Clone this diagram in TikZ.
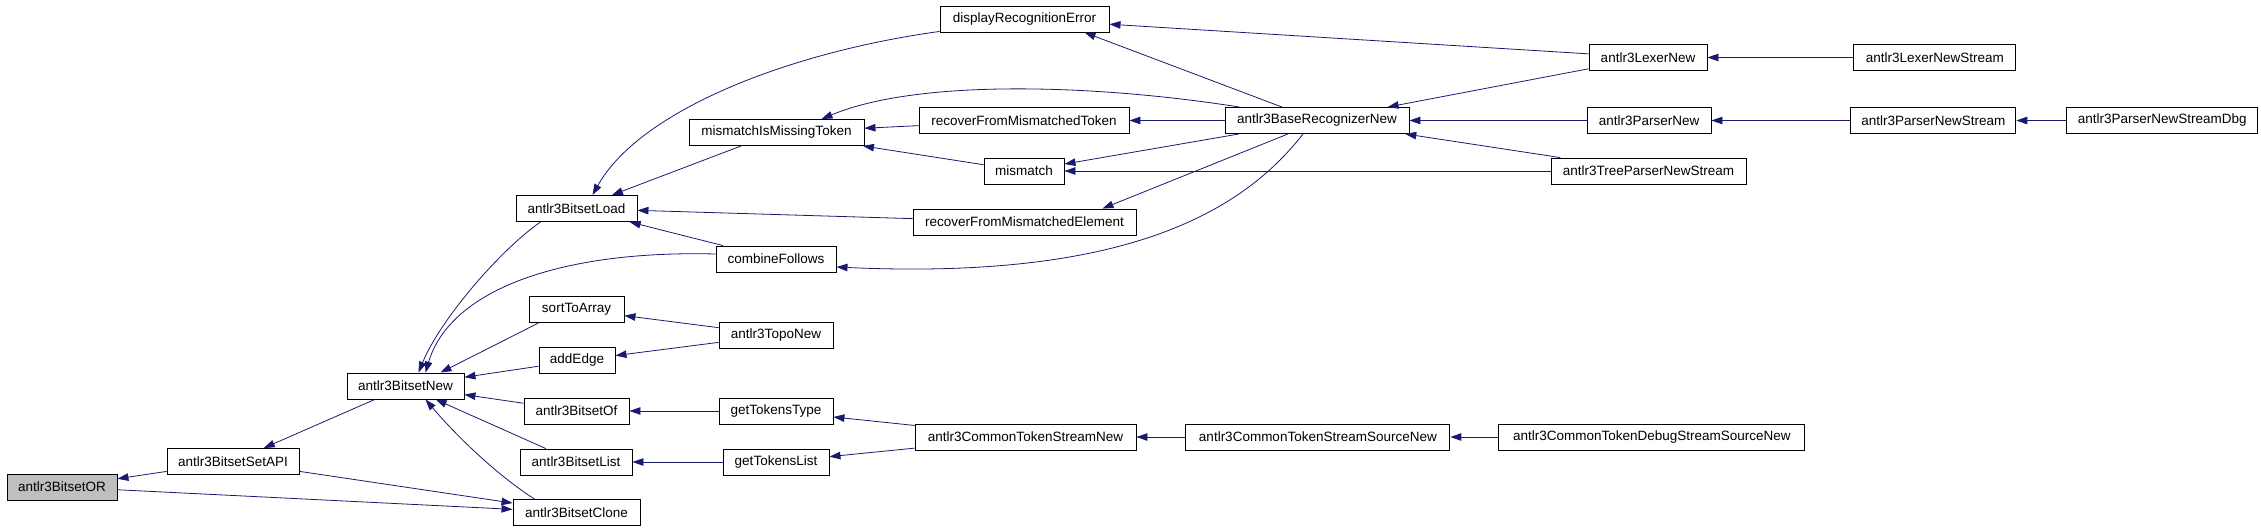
\documentclass[tikz,border=0pt]{standalone}
\usepackage{fontspec}
\setmainfont{Liberation Sans}
\usepackage{xcolor}
\usepackage{tikz}
\usetikzlibrary{positioning,arrows.meta}
\definecolor{edgeblue}{HTML}{191970}
\definecolor{focus}{HTML}{BFBFBF}

\begin{document}
\begin{tikzpicture}[x=1pt, y=-1pt,
  fn/.style={draw, line width=0.9pt, minimum height=26pt, inner sep=0pt,
             font=\fontsize{13.5}{16}\selectfont},
  arr/.style={-{Triangle[length=11pt, width=7.5pt]}, line width=0.8pt, draw=edgeblue}]
\useasboundingbox (0,0) rectangle (2261,531);
\node[fn, fill=focus, minimum width=110pt] (bor) at (62,487) {antlr3BitsetOR};
\node[fn, minimum width=132pt] (setapi) at (233,461.5) {antlr3BitsetSetAPI};
\node[fn, minimum width=117pt] (bnew) at (405.5,386) {antlr3BitsetNew};
\node[fn, minimum width=127pt] (clone) at (576.5,512.5) {antlr3BitsetClone};
\node[fn, minimum width=112pt] (blist) at (576,462) {antlr3BitsetList};
\node[fn, minimum width=105pt] (bof) at (576.5,411) {antlr3BitsetOf};
\node[fn, minimum width=76pt] (addedge) at (577,360.5) {addEdge};
\node[fn, minimum width=95pt] (sortarr) at (576.5,309.5) {sortToArray};
\node[fn, minimum width=121pt] (load) at (576.5,208.5) {antlr3BitsetLoad};
\node[fn, minimum width=114pt] (topo) at (776,335) {antlr3TopoNew};
\node[fn, minimum width=114pt] (gtype) at (776,411) {getTokensType};
\node[fn, minimum width=106pt] (glist) at (776,462) {getTokensList};
\node[fn, minimum width=120pt] (combine) at (776,259) {combineFollows};
\node[fn, minimum width=175pt] (missing) at (776.5,132.5) {mismatchIsMissingToken};
\node[fn, minimum width=169pt] (display) at (1024.5,19) {displayRecognitionError};
\node[fn, minimum width=210pt] (rtoken) at (1024,120.5) {recoverFromMismatchedToken};
\node[fn, minimum width=80pt] (mism) at (1024,171) {mismatch};
\node[fn, minimum width=223pt] (relem) at (1024.5,222) {recoverFromMismatchedElement};
\node[fn, minimum width=221pt] (ctsnew) at (1025.5,437) {antlr3CommonTokenStreamNew};
\node[fn, minimum width=184pt] (baserec) at (1317,120.5) {antlr3BaseRecognizerNew};
\node[fn, minimum width=264pt, right=49pt of ctsnew] (ctssrc) {antlr3CommonTokenStreamSourceNew};
\node[fn, minimum width=306pt, right=48pt of ctssrc] (ctdbg) {antlr3CommonTokenDebugStreamSourceNew};
\node[fn, minimum width=118pt] (lexnew) at (1648,57.5) {antlr3LexerNew};
\node[fn, minimum width=124pt] (parnew) at (1649,120.5) {antlr3ParserNew};
\node[fn, minimum width=195pt] (treens) at (1648.5,171) {antlr3TreeParserNewStream};
\node[fn, minimum width=162pt, right=146pt of lexnew] (lexns) {antlr3LexerNewStream};
\node[fn, minimum width=165pt, right=139pt of parnew] (parns) {antlr3ParserNewStream};
\node[fn, minimum width=191pt, right=50pt of parns] (pdbg) {antlr3ParserNewStreamDbg};
\draw[arr] (setapi) -- (bor);
\draw[arr] (bor) -- (clone);
\draw[arr] (setapi) -- (clone);
\draw[arr] (bnew) -- (setapi);
\draw[arr] ([xshift=25pt]load.south west) .. controls (500,250) and (440,320) .. ([xshift=13pt]bnew.north);
\draw[arr] ([yshift=5pt]combine.west) .. controls (560,250) and (450,290) .. ([xshift=20pt]bnew.north);
\draw[arr] ([xshift=10pt]sortarr.south west) -- ([xshift=35pt]bnew.north);
\draw[arr] (addedge) -- (bnew);
\draw[arr] (bof) -- (bnew);
\draw[arr] (blist) -- (bnew);
\draw[arr] ([xshift=22pt]clone.north west) .. controls (500,477) and (460,440) .. ([xshift=20pt]bnew.south);
\draw[arr] (topo) -- (sortarr);
\draw[arr] (topo) -- (addedge);
\draw[arr] (gtype) -- (bof);
\draw[arr] (glist) -- (blist);
\draw[arr] (ctsnew) -- (gtype);
\draw[arr] (ctsnew) -- (glist);
\draw[arr] (ctssrc) -- (ctsnew);
\draw[arr] (ctdbg) -- (ctssrc);
\draw[arr] (missing) -- (load);
\draw[arr] ([yshift=1pt]display.south west) .. controls (790,52) and (640,110) .. ([xshift=16pt]load.north);
\draw[arr] (relem) -- (load);
\draw[arr] (combine) -- (load);
\draw[arr] (rtoken) -- (missing);
\draw[arr] (mism) -- (missing);
\draw[arr] ([xshift=15pt]baserec.north west) .. controls (1100,85) and (920,78) .. ([xshift=45pt]missing.north);
\draw[arr] ([xshift=-35pt]baserec.north) -- ([xshift=60pt]display.south);
\draw[arr] (lexnew) -- (display);
\draw[arr] (baserec) -- (rtoken);
\draw[arr] (baserec) -- (mism);
\draw[arr] (treens) -- (mism);
\draw[arr] ([xshift=-29pt]baserec.south) -- ([xshift=78pt]relem.north);
\draw[arr] ([xshift=-14pt]baserec.south) .. controls (1240,215) and (1120,280) .. ([yshift=-8pt]combine.east);
\draw[arr] (lexnew) -- (baserec);
\draw[arr] (parnew) -- (baserec);
\draw[arr] (treens) -- (baserec);
\draw[arr] (lexns) -- (lexnew);
\draw[arr] (parns) -- (parnew);
\draw[arr] (pdbg) -- (parns);
\end{tikzpicture}
\end{document}
